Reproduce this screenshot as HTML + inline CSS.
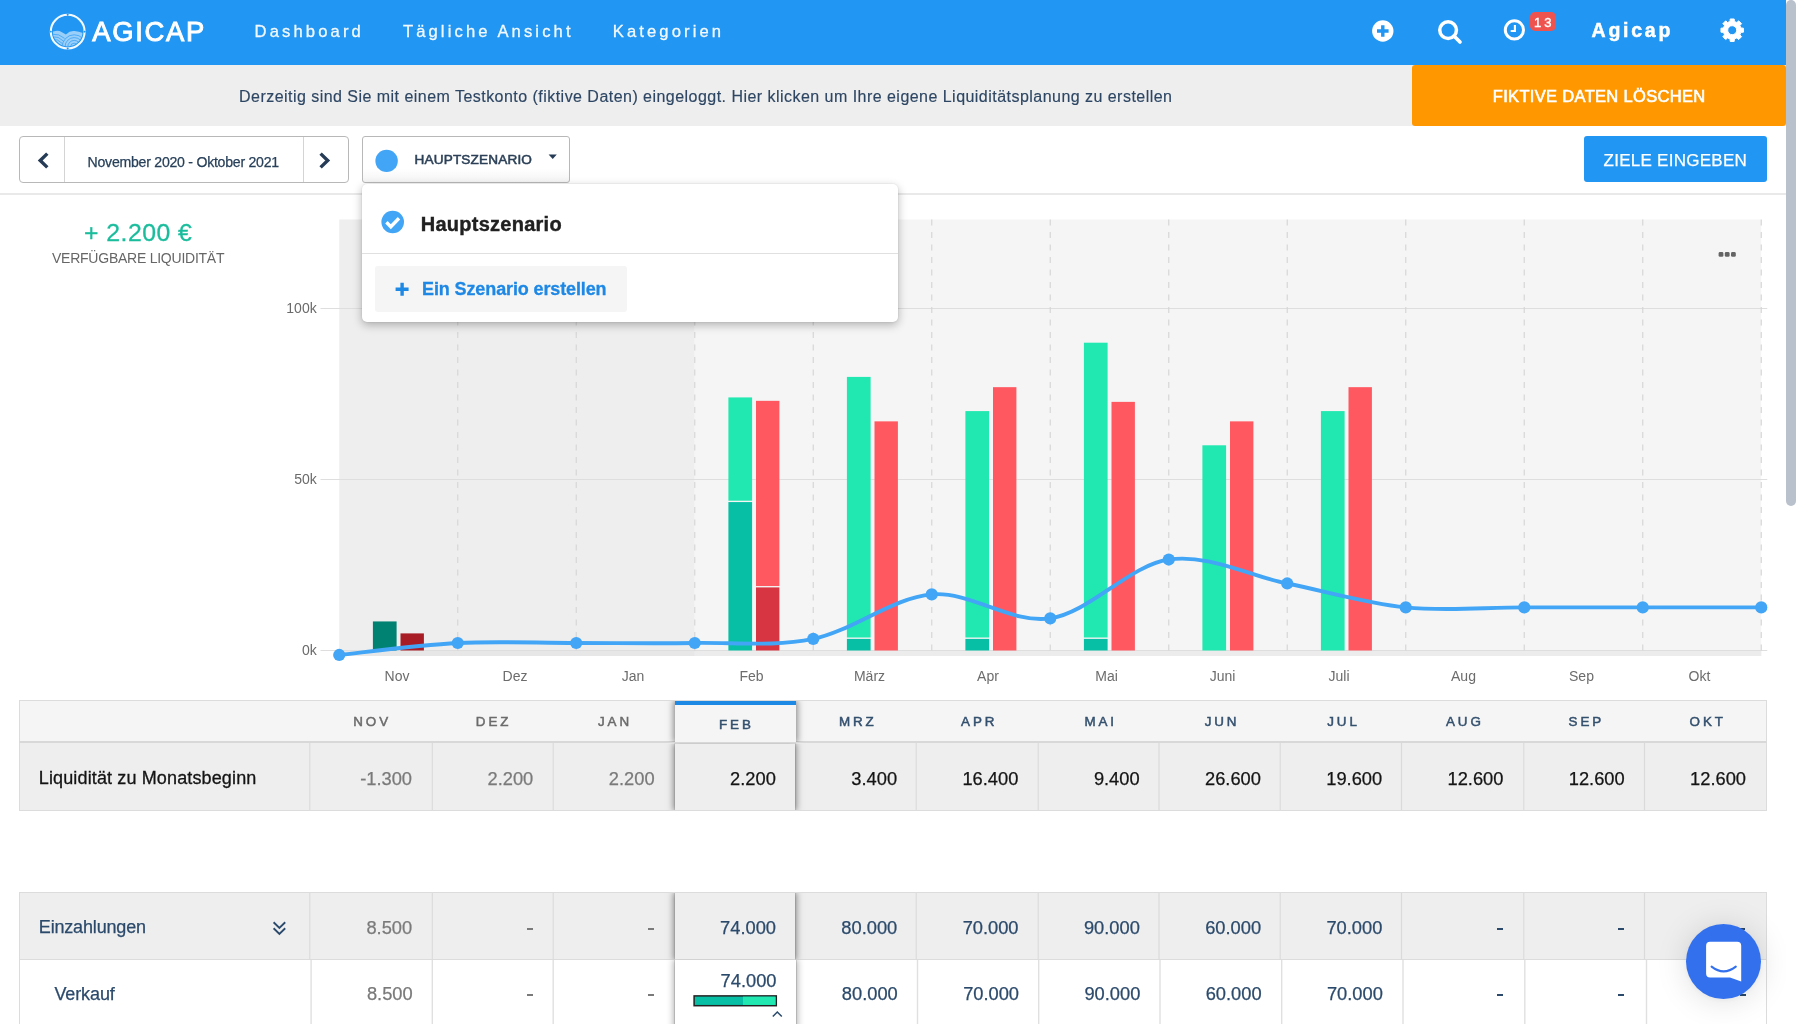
<!DOCTYPE html>
<html lang="de"><head><meta charset="utf-8"><title>Agicap</title>
<style>
html,body{margin:0;padding:0;}
body{width:1796px;height:1024px;overflow:hidden;background:#fff;position:relative;font-family:"Liberation Sans",sans-serif;}
.a{position:absolute;box-sizing:border-box;}
.t{position:absolute;white-space:nowrap;line-height:1;}
svg{position:absolute;overflow:visible;}
#root{position:absolute;left:0;top:0;width:1796px;height:1024px;overflow:hidden;will-change:transform;}
</style></head><body><div id="root">
<div class="a" style="left:0px;top:0px;width:1786px;height:65px;background:#2196f3;"></div>
<svg style="left:0;top:0" width="120" height="65" viewBox="0 0 120 65">
<defs><clipPath id="lc"><circle cx="67.7" cy="31.65" r="14.8"/></clipPath></defs>
<circle cx="67.7" cy="31.65" r="16.9" fill="none" stroke="#fff" stroke-opacity=".95" stroke-width="2.1"/>
<g fill="#2196f3"><path d="M67.7 13.5l1.2 1.2l-1.2 1.2l-1.2-1.2z"/><path d="M67.7 47.4l1.2 1.2l-1.2 1.2l-1.2-1.2z"/><path d="M49.6 31.65l1.2-1.2l1.2 1.2l-1.2 1.2z"/><path d="M83.4 31.65l1.2-1.2l1.2 1.2l-1.2 1.2z"/></g>
<g clip-path="url(#lc)">
<path d="M50 32 L53.5 31.6 Q58 30 61.5 31.9 L65.9 34.4 Q70 30.4 74.6 31 Q79.5 31.6 85 33.6 V52 H50 Z" fill="#fff" fill-opacity=".55"/>
<g fill="none" stroke="#2196f3" stroke-opacity=".75" stroke-width="0.85">
<circle cx="74.2" cy="46.8" r="3.6"/><circle cx="74.2" cy="46.8" r="6.4"/><circle cx="74.2" cy="46.8" r="9.2"/><circle cx="74.2" cy="46.8" r="12"/>
<path d="M52 34.2 Q59 33.5 64.6 38.4"/><path d="M52 36.8 Q58.5 36 63.4 41"/><path d="M52 39.4 Q58 38.6 62.4 43.6"/><path d="M53 42 Q58 41.4 61.6 46"/><path d="M55 44.8 Q58.5 44.4 61 48.4"/>
</g></g></svg>
<span class="t" style="left:92.30px;top:17.51px;font-size:27.4px;color:#fff;letter-spacing:1.712px;-webkit-text-stroke:0.95px #fff;">AGICAP</span>
<span class="t" style="left:254.60px;top:23.65px;font-size:16.6px;color:rgba(255,255,255,.93);letter-spacing:3.124px;-webkit-text-stroke:0.3px rgba(255,255,255,.93);">Dashboard</span>
<span class="t" style="left:402.90px;top:23.65px;font-size:16.6px;color:rgba(255,255,255,.93);letter-spacing:3.121px;-webkit-text-stroke:0.3px rgba(255,255,255,.93);">Tägliche Ansicht</span>
<span class="t" style="left:612.70px;top:23.65px;font-size:16.6px;color:rgba(255,255,255,.93);letter-spacing:3.123px;-webkit-text-stroke:0.3px rgba(255,255,255,.93);">Kategorien</span>
<svg style="left:1371px;top:19px" width="24" height="24" viewBox="0 0 24 24"><circle cx="11.8" cy="12" r="10.7" fill="#fff"/><path d="M11.8 6.2v11.6M6 12h11.6" stroke="#2196f3" stroke-width="3.4"/></svg>
<svg style="left:1436px;top:17px" width="28" height="28" viewBox="0 0 28 28"><circle cx="12.1" cy="13.1" r="8.35" fill="none" stroke="#fff" stroke-width="3.5"/><path d="M18 19L24 25" stroke="#fff" stroke-width="3.7" stroke-linecap="round"/></svg>
<svg style="left:1502px;top:18px" width="24" height="24" viewBox="0 0 24 24"><circle cx="12.4" cy="11.9" r="9.1" fill="none" stroke="#fff" stroke-width="3.0"/><path d="M12.9 6.9v6.1h-4.2" fill="none" stroke="#fff" stroke-width="2.1"/></svg>
<div class="a" style="left:1530.4px;top:12.4px;width:25.799999999999955px;height:18.700000000000003px;background:#ef5350;border-radius:5px;"></div>
<span class="t" style="left:1533.90px;top:16.40px;font-size:13px;color:#fff;letter-spacing:3.140px;-webkit-text-stroke:0.4px #fff;">13</span>
<span class="t" style="left:1591.60px;top:21.19px;font-size:19.5px;color:#fff;font-weight:bold;letter-spacing:2.737px;-webkit-text-stroke:0.5px #fff;">Agicap</span>
<svg style="left:0;top:0" width="1796" height="65"><path d="M1730.03 21.47 L1730.20 18.98 L1734.20 18.98 L1734.37 21.47 L1736.84 22.49 L1738.72 20.85 L1741.55 23.68 L1739.91 25.56 L1740.93 28.03 L1743.42 28.20 L1743.42 32.20 L1740.93 32.37 L1739.91 34.84 L1741.55 36.72 L1738.72 39.55 L1736.84 37.91 L1734.37 38.93 L1734.20 41.42 L1730.20 41.42 L1730.03 38.93 L1727.56 37.91 L1725.68 39.55 L1722.85 36.72 L1724.49 34.84 L1723.47 32.37 L1720.98 32.20 L1720.98 28.20 L1723.47 28.03 L1724.49 25.56 L1722.85 23.68 L1725.68 20.85 L1727.56 22.49Z M1727.70 30.20 a4.5 4.5 0 1 0 9.0 0 a4.5 4.5 0 1 0 -9.0 0Z" fill="#fff" fill-rule="evenodd" stroke="#fff" stroke-width="1" stroke-linejoin="round"/></svg>
<div class="a" style="left:0px;top:65px;width:1786px;height:61px;background:#eeeeee;"></div>
<span class="t" style="left:239.00px;top:89.06px;font-size:16px;color:#2d4663;letter-spacing:0.465px;-webkit-text-stroke:0.15px #2d4663;">Derzeitig sind Sie mit einem Testkonto (fiktive Daten) eingeloggt. Hier klicken um Ihre eigene Liquiditätsplanung zu erstellen</span>
<div class="a" style="left:1412px;top:65px;width:374px;height:61px;background:#ff9800;border-radius:3px;"></div>
<span class="t" style="left:1492.80px;top:87.83px;font-size:16.5px;color:#fff;letter-spacing:0.321px;-webkit-text-stroke:0.6px #fff;">FIKTIVE DATEN LÖSCHEN</span>
<div class="a" style="left:0px;top:193px;width:1786px;height:2px;background:#e9e9e9;"></div>
<div class="a" style="left:19px;top:136px;width:330px;height:47px;border:1px solid #b8b8b8;border-radius:4px;background:#fff;"></div>
<div class="a" style="left:64px;top:137px;width:1px;height:45px;background:#d4d4d4;"></div>
<div class="a" style="left:303px;top:137px;width:1px;height:45px;background:#d4d4d4;"></div>
<svg style="left:0;top:126px" width="400" height="70"><g fill="none" stroke="#253b56" stroke-width="3.4"><path d="M47.3 27.6L40.2 34.5L47.3 41.4"/><path d="M320.6 27.6L327.7 34.5L320.6 41.4"/></g></svg>
<span class="t" style="left:87.60px;top:154.66px;font-size:14.1px;color:#28405a;letter-spacing:-0.248px;-webkit-text-stroke:0.25px #28405a;">November 2020 - Oktober 2021</span>
<div class="a" style="left:362px;top:136px;width:208px;height:47px;border:1px solid #b8b8b8;border-radius:3px;background:linear-gradient(#fff 70%,#f4f4f4);"></div>
<svg style="left:0;top:126px" width="600" height="70"><circle cx="386.6" cy="34.9" r="11.2" fill="#42a5f5"/><path d="M548.6 28.6h8.2l-4.1 4.3z" fill="#253b56"/></svg>
<span class="t" style="left:414.50px;top:153.19px;font-size:13.6px;color:#2c4158;letter-spacing:0.157px;-webkit-text-stroke:0.55px #2c4158;">HAUPTSZENARIO</span>
<div class="a" style="left:1584px;top:136px;width:183px;height:46px;background:#2196f3;border-radius:3px;"></div>
<span class="t" style="left:1603.60px;top:151.91px;font-size:17px;color:#fff;letter-spacing:0.260px;-webkit-text-stroke:0.25px #fff;">ZIELE EINGEBEN</span>
<span class="t" style="left:84.00px;top:220.71px;font-size:24.8px;color:#1abc9c;letter-spacing:0.473px;-webkit-text-stroke:0.3px #1abc9c;">+ 2.200 €</span>
<span class="t" style="left:52.00px;top:250.95px;font-size:14px;color:#666;letter-spacing:-0.243px;">VERFÜGBARE LIQUIDITÄT</span>
<svg style="left:0;top:0" width="1796" height="700">
<rect x="339.25" y="219.5" width="355.5" height="436.5" fill="#eeeeee"/>
<rect x="694.75" y="219.5" width="1066.5" height="436.5" fill="#f5f5f5"/>
<rect x="339.25" y="651" width="355.5" height="5" fill="#e7e7e7"/>
<rect x="694.75" y="651" width="1066.5" height="5" fill="#ececec"/>
<path d="M320.5 650.50H1767.25" stroke="#dedede" stroke-width="1.1"/>
<path d="M320.5 479.50H1767.25" stroke="#dedede" stroke-width="1.1"/>
<path d="M320.5 308.50H1767.25" stroke="#dedede" stroke-width="1.1"/>
<path d="M457.75 219.5V651.5" stroke="#d6d6d6" stroke-width="1.2" stroke-dasharray="6 6.5"/>
<path d="M576.25 219.5V651.5" stroke="#d6d6d6" stroke-width="1.2" stroke-dasharray="6 6.5"/>
<path d="M694.75 219.5V651.5" stroke="#d6d6d6" stroke-width="1.2" stroke-dasharray="6 6.5"/>
<path d="M813.25 219.5V651.5" stroke="#d6d6d6" stroke-width="1.2" stroke-dasharray="6 6.5"/>
<path d="M931.75 219.5V651.5" stroke="#d6d6d6" stroke-width="1.2" stroke-dasharray="6 6.5"/>
<path d="M1050.25 219.5V651.5" stroke="#d6d6d6" stroke-width="1.2" stroke-dasharray="6 6.5"/>
<path d="M1168.75 219.5V651.5" stroke="#d6d6d6" stroke-width="1.2" stroke-dasharray="6 6.5"/>
<path d="M1287.25 219.5V651.5" stroke="#d6d6d6" stroke-width="1.2" stroke-dasharray="6 6.5"/>
<path d="M1405.75 219.5V651.5" stroke="#d6d6d6" stroke-width="1.2" stroke-dasharray="6 6.5"/>
<path d="M1524.25 219.5V651.5" stroke="#d6d6d6" stroke-width="1.2" stroke-dasharray="6 6.5"/>
<path d="M1642.75 219.5V651.5" stroke="#d6d6d6" stroke-width="1.2" stroke-dasharray="6 6.5"/>
<path d="M1761.25 219.5V651.5" stroke="#d6d6d6" stroke-width="1.2" stroke-dasharray="6 6.5"/>
<rect x="372.90" y="621.43" width="23.70" height="29.07" fill="#008272"/>
<rect x="400.50" y="633.40" width="23.40" height="17.10" fill="#a81d25"/>
<rect x="728.40" y="502.07" width="23.70" height="148.43" fill="#06bfa5"/>
<rect x="728.40" y="397.42" width="23.70" height="103.28" fill="#20e8b0"/>
<rect x="756.00" y="587.40" width="23.40" height="63.10" fill="#d63541"/>
<rect x="756.00" y="400.84" width="23.40" height="185.19" fill="#ff5860"/>
<rect x="846.90" y="638.87" width="23.70" height="11.63" fill="#06bfa5"/>
<rect x="846.90" y="376.90" width="23.70" height="260.60" fill="#20e8b0"/>
<rect x="874.50" y="421.36" width="23.40" height="229.14" fill="#ff5860"/>
<rect x="965.40" y="638.87" width="23.70" height="11.63" fill="#06bfa5"/>
<rect x="965.40" y="411.10" width="23.70" height="226.40" fill="#20e8b0"/>
<rect x="993.00" y="387.16" width="23.40" height="263.34" fill="#ff5860"/>
<rect x="1083.90" y="638.87" width="23.70" height="11.63" fill="#06bfa5"/>
<rect x="1083.90" y="342.70" width="23.70" height="294.80" fill="#20e8b0"/>
<rect x="1111.50" y="401.87" width="23.40" height="248.63" fill="#ff5860"/>
<rect x="1202.40" y="445.30" width="23.70" height="205.20" fill="#20e8b0"/>
<rect x="1230.00" y="421.36" width="23.40" height="229.14" fill="#ff5860"/>
<rect x="1320.90" y="411.10" width="23.70" height="239.40" fill="#20e8b0"/>
<rect x="1348.50" y="387.16" width="23.40" height="263.34" fill="#ff5860"/>
<path d="M339.25 654.95 C359.00 652.95 418.25 644.97 457.75 642.98 C497.25 640.98 536.75 642.98 576.25 642.98 C615.75 642.98 655.25 643.66 694.75 642.98 C734.25 642.29 773.75 646.97 813.25 638.87 C852.75 630.78 892.25 597.83 931.75 594.41 C971.25 590.99 1010.75 624.17 1050.25 618.35 C1089.75 612.54 1129.25 565.34 1168.75 559.53 C1208.25 553.71 1247.75 575.49 1287.25 583.47 C1326.75 591.45 1366.25 603.42 1405.75 607.41 C1445.25 611.40 1484.75 607.41 1524.25 607.41 C1563.75 607.41 1603.25 607.41 1642.75 607.41 C1682.25 607.41 1741.50 607.41 1761.25 607.41" fill="none" stroke="#42a5f5" stroke-width="3.9" stroke-linecap="round"/>
<circle cx="339.25" cy="654.95" r="6.1" fill="#42a5f5"/>
<circle cx="457.75" cy="642.98" r="6.1" fill="#42a5f5"/>
<circle cx="576.25" cy="642.98" r="6.1" fill="#42a5f5"/>
<circle cx="694.75" cy="642.98" r="6.1" fill="#42a5f5"/>
<circle cx="813.25" cy="638.87" r="6.1" fill="#42a5f5"/>
<circle cx="931.75" cy="594.41" r="6.1" fill="#42a5f5"/>
<circle cx="1050.25" cy="618.35" r="6.1" fill="#42a5f5"/>
<circle cx="1168.75" cy="559.53" r="6.1" fill="#42a5f5"/>
<circle cx="1287.25" cy="583.47" r="6.1" fill="#42a5f5"/>
<circle cx="1405.75" cy="607.41" r="6.1" fill="#42a5f5"/>
<circle cx="1524.25" cy="607.41" r="6.1" fill="#42a5f5"/>
<circle cx="1642.75" cy="607.41" r="6.1" fill="#42a5f5"/>
<circle cx="1761.25" cy="607.41" r="6.1" fill="#42a5f5"/>
<rect x="1718.60" y="252" width="4.8" height="4.8" rx="1.4" fill="#646464"/>
<rect x="1724.80" y="252" width="4.8" height="4.8" rx="1.4" fill="#646464"/>
<rect x="1731.00" y="252" width="4.8" height="4.8" rx="1.4" fill="#646464"/>
</svg>
<span class="t" style="left:286.34px;top:301.05px;font-size:14px;color:#6a6a6a;">100k</span>
<span class="t" style="left:294.13px;top:472.05px;font-size:14px;color:#6a6a6a;">50k</span>
<span class="t" style="left:301.91px;top:643.05px;font-size:14px;color:#6a6a6a;">0k</span>
<span class="t" style="left:384.55px;top:668.85px;font-size:14px;color:#6c6c6c;">Nov</span>
<span class="t" style="left:502.55px;top:668.85px;font-size:14px;color:#6c6c6c;">Dez</span>
<span class="t" style="left:621.71px;top:668.85px;font-size:14px;color:#6c6c6c;">Jan</span>
<span class="t" style="left:739.44px;top:668.85px;font-size:14px;color:#6c6c6c;">Feb</span>
<span class="t" style="left:853.94px;top:668.85px;font-size:14px;color:#6c6c6c;">März</span>
<span class="t" style="left:977.11px;top:668.85px;font-size:14px;color:#6c6c6c;">Apr</span>
<span class="t" style="left:1095.22px;top:668.85px;font-size:14px;color:#6c6c6c;">Mai</span>
<span class="t" style="left:1209.66px;top:668.85px;font-size:14px;color:#6c6c6c;">Juni</span>
<span class="t" style="left:1328.50px;top:668.85px;font-size:14px;color:#6c6c6c;">Juli</span>
<span class="t" style="left:1451.04px;top:668.85px;font-size:14px;color:#6c6c6c;">Aug</span>
<span class="t" style="left:1569.04px;top:668.85px;font-size:14px;color:#6c6c6c;">Sep</span>
<span class="t" style="left:1688.61px;top:668.85px;font-size:14px;color:#6c6c6c;">Okt</span>
<div class="a" style="left:362px;top:184px;width:536px;height:138px;background:#fff;border-radius:5px;box-shadow:0 3px 10px rgba(0,0,0,.28),0 0 2px rgba(0,0,0,.12);"></div>
<div class="a" style="left:362px;top:253px;width:536px;height:1px;background:#e0e0e0;"></div>
<svg style="left:0;top:184px" width="900" height="140"><circle cx="392.7" cy="38.0" r="11.3" fill="#42a5f5"/><path d="M386.4 38.3l4.4 4.4l8.2-8.5" fill="none" stroke="#fff" stroke-width="3.4"/></svg>
<span class="t" style="left:420.80px;top:213.77px;font-size:20px;color:#212121;font-weight:bold;letter-spacing:0.250px;-webkit-text-stroke:0.4px #212121;">Hauptszenario</span>
<div class="a" style="left:375.3px;top:266px;width:251.90000000000003px;height:45.5px;background:#f5f5f5;border-radius:3px;"></div>
<svg style="left:0;top:184px" width="900" height="140"><path d="M395.6 105.3h13M402.1 98.8v13" stroke="#1e88e5" stroke-width="3.4"/></svg>
<span class="t" style="left:422.10px;top:280.36px;font-size:18px;color:#1e88e5;font-weight:bold;letter-spacing:-0.122px;-webkit-text-stroke:0.3px #1e88e5;">Ein Szenario erstellen</span>
<div class="a" style="left:19px;top:700px;width:1748px;height:43px;background:#f5f5f5;border:1px solid #dcdcdc;border-bottom:2px solid #d8d8d8;"></div>
<div class="a" style="left:19px;top:743px;width:1748px;height:68px;background:#eeeeee;border:1px solid #dcdcdc;border-top:none;"></div>
<div class="a" style="left:19px;top:892px;width:1748px;height:68px;background:#eeeeee;border:1px solid #dcdcdc;"></div>
<div class="a" style="left:19px;top:960px;width:1748px;height:70px;background:#fff;border:1px solid #dcdcdc;border-top:none;"></div>
<svg style="left:0;top:0" width="1796" height="1024"><rect x="309.25" y="743" width="1.1" height="67" fill="#dadada"/><rect x="309.25" y="893" width="1.1" height="66.5" fill="#dadada"/><rect x="431.75" y="743" width="1.1" height="67" fill="#dadada"/><rect x="431.75" y="893" width="1.1" height="66.5" fill="#dadada"/><rect x="552.65" y="743" width="1.1" height="67" fill="#dadada"/><rect x="552.65" y="893" width="1.1" height="66.5" fill="#dadada"/><rect x="674.25" y="743" width="1.1" height="67" fill="#dadada"/><rect x="674.25" y="893" width="1.1" height="66.5" fill="#dadada"/><rect x="794.95" y="743" width="1.1" height="67" fill="#dadada"/><rect x="794.95" y="893" width="1.1" height="66.5" fill="#dadada"/><rect x="915.65" y="743" width="1.1" height="67" fill="#dadada"/><rect x="915.65" y="893" width="1.1" height="66.5" fill="#dadada"/><rect x="1037.65" y="743" width="1.1" height="67" fill="#dadada"/><rect x="1037.65" y="893" width="1.1" height="66.5" fill="#dadada"/><rect x="1158.45" y="743" width="1.1" height="67" fill="#dadada"/><rect x="1158.45" y="893" width="1.1" height="66.5" fill="#dadada"/><rect x="1279.65" y="743" width="1.1" height="67" fill="#dadada"/><rect x="1279.65" y="893" width="1.1" height="66.5" fill="#dadada"/><rect x="1400.95" y="743" width="1.1" height="67" fill="#dadada"/><rect x="1400.95" y="893" width="1.1" height="66.5" fill="#dadada"/><rect x="1523.25" y="743" width="1.1" height="67" fill="#dadada"/><rect x="1523.25" y="893" width="1.1" height="66.5" fill="#dadada"/><rect x="1643.95" y="743" width="1.1" height="67" fill="#dadada"/><rect x="1643.95" y="893" width="1.1" height="66.5" fill="#dadada"/><rect x="310.40" y="960" width="1.4" height="64" fill="#e0e0e0"/><rect x="431.60" y="960" width="1.4" height="64" fill="#e0e0e0"/><rect x="552.50" y="960" width="1.4" height="64" fill="#e0e0e0"/><rect x="674.10" y="960" width="1.4" height="64" fill="#e0e0e0"/><rect x="795.50" y="960" width="1.4" height="64" fill="#e0e0e0"/><rect x="916.80" y="960" width="1.4" height="64" fill="#e0e0e0"/><rect x="1038.00" y="960" width="1.4" height="64" fill="#e0e0e0"/><rect x="1159.30" y="960" width="1.4" height="64" fill="#e0e0e0"/><rect x="1281.00" y="960" width="1.4" height="64" fill="#e0e0e0"/><rect x="1402.30" y="960" width="1.4" height="64" fill="#e0e0e0"/><rect x="1524.10" y="960" width="1.4" height="64" fill="#e0e0e0"/><rect x="1645.80" y="960" width="1.4" height="64" fill="#e0e0e0"/></svg>
<div class="a" style="left:674.5px;top:701px;width:121.20000000000005px;height:41px;background:#f5f5f5;border-top:4px solid #1e88e5;box-shadow:0 0 7px 1px rgba(0,0,0,.5);clip-path:inset(0 -12px 0 -12px);"></div>
<div class="a" style="left:674.5px;top:743.5px;width:120.40000000000009px;height:66.5px;background:#eeeeee;box-shadow:0 0 7px 1px rgba(0,0,0,.5);clip-path:inset(0 -12px 0 -12px);"></div>
<div class="a" style="left:674.5px;top:893px;width:120.40000000000009px;height:66.5px;background:#eeeeee;box-shadow:0 0 7px 1px rgba(0,0,0,.5);clip-path:inset(0 -12px 0 -12px);"></div>
<div class="a" style="left:675.2px;top:960px;width:121.20000000000005px;height:70px;background:#fff;box-shadow:0 0 7px 1px rgba(0,0,0,.36);clip-path:inset(0 -12px 0 -12px);"></div>
<span class="t" style="left:353.29px;top:714.56px;font-size:13.4px;color:#6b6b6b;letter-spacing:2.900px;-webkit-text-stroke:0.5px #6b6b6b;">NOV</span>
<span class="t" style="left:475.82px;top:714.56px;font-size:13.4px;color:#6b6b6b;letter-spacing:2.900px;-webkit-text-stroke:0.5px #6b6b6b;">DEZ</span>
<span class="t" style="left:597.98px;top:714.56px;font-size:13.4px;color:#6b6b6b;letter-spacing:2.900px;-webkit-text-stroke:0.5px #6b6b6b;">JAN</span>
<span class="t" style="left:719.03px;top:718.26px;font-size:13.4px;color:#34506e;letter-spacing:2.900px;-webkit-text-stroke:0.5px #34506e;">FEB</span>
<span class="t" style="left:838.96px;top:714.56px;font-size:13.4px;color:#34506e;letter-spacing:2.900px;-webkit-text-stroke:0.5px #34506e;">MRZ</span>
<span class="t" style="left:961.12px;top:714.56px;font-size:13.4px;color:#34506e;letter-spacing:2.900px;-webkit-text-stroke:0.5px #34506e;">APR</span>
<span class="t" style="left:1084.40px;top:714.56px;font-size:13.4px;color:#34506e;letter-spacing:2.900px;-webkit-text-stroke:0.5px #34506e;">MAI</span>
<span class="t" style="left:1204.70px;top:714.56px;font-size:13.4px;color:#34506e;letter-spacing:2.900px;-webkit-text-stroke:0.5px #34506e;">JUN</span>
<span class="t" style="left:1327.23px;top:714.56px;font-size:13.4px;color:#34506e;letter-spacing:2.900px;-webkit-text-stroke:0.5px #34506e;">JUL</span>
<span class="t" style="left:1446.04px;top:714.56px;font-size:13.4px;color:#34506e;letter-spacing:2.900px;-webkit-text-stroke:0.5px #34506e;">AUG</span>
<span class="t" style="left:1568.57px;top:714.56px;font-size:13.4px;color:#34506e;letter-spacing:2.900px;-webkit-text-stroke:0.5px #34506e;">SEP</span>
<span class="t" style="left:1689.62px;top:714.56px;font-size:13.4px;color:#34506e;letter-spacing:2.900px;-webkit-text-stroke:0.5px #34506e;">OKT</span>
<span class="t" style="left:360.16px;top:770.21px;font-size:18.3px;color:#7a7a7a;-webkit-text-stroke:0.25px #7a7a7a;">-1.300</span>
<span class="t" style="left:487.53px;top:770.21px;font-size:18.3px;color:#7a7a7a;-webkit-text-stroke:0.25px #7a7a7a;">2.200</span>
<span class="t" style="left:608.80px;top:770.21px;font-size:18.3px;color:#7a7a7a;-webkit-text-stroke:0.25px #7a7a7a;">2.200</span>
<span class="t" style="left:730.07px;top:770.21px;font-size:18.3px;color:#141414;-webkit-text-stroke:0.25px #141414;">2.200</span>
<span class="t" style="left:851.34px;top:770.21px;font-size:18.3px;color:#141414;-webkit-text-stroke:0.25px #141414;">3.400</span>
<span class="t" style="left:962.43px;top:770.21px;font-size:18.3px;color:#141414;-webkit-text-stroke:0.25px #141414;">16.400</span>
<span class="t" style="left:1093.88px;top:770.21px;font-size:18.3px;color:#141414;-webkit-text-stroke:0.25px #141414;">9.400</span>
<span class="t" style="left:1204.97px;top:770.21px;font-size:18.3px;color:#141414;-webkit-text-stroke:0.25px #141414;">26.600</span>
<span class="t" style="left:1326.24px;top:770.21px;font-size:18.3px;color:#141414;-webkit-text-stroke:0.25px #141414;">19.600</span>
<span class="t" style="left:1447.51px;top:770.21px;font-size:18.3px;color:#141414;-webkit-text-stroke:0.25px #141414;">12.600</span>
<span class="t" style="left:1568.78px;top:770.21px;font-size:18.3px;color:#141414;-webkit-text-stroke:0.25px #141414;">12.600</span>
<span class="t" style="left:1690.05px;top:770.21px;font-size:18.3px;color:#141414;-webkit-text-stroke:0.25px #141414;">12.600</span>
<span class="t" style="left:366.46px;top:919.21px;font-size:18.3px;color:#7a7a7a;-webkit-text-stroke:0.25px #7a7a7a;">8.500</span>
<div class="a" style="left:526.57px;top:928.1px;width:6.100000000000023px;height:1.6000000000000227px;background:#7a7a7a;"></div>
<div class="a" style="left:647.84px;top:928.1px;width:6.100000000000023px;height:1.6000000000000227px;background:#7a7a7a;"></div>
<span class="t" style="left:720.09px;top:919.21px;font-size:18.3px;color:#2b4a6b;-webkit-text-stroke:0.25px #2b4a6b;">74.000</span>
<span class="t" style="left:841.36px;top:919.21px;font-size:18.3px;color:#2b4a6b;-webkit-text-stroke:0.25px #2b4a6b;">80.000</span>
<span class="t" style="left:962.63px;top:919.21px;font-size:18.3px;color:#2b4a6b;-webkit-text-stroke:0.25px #2b4a6b;">70.000</span>
<span class="t" style="left:1083.90px;top:919.21px;font-size:18.3px;color:#2b4a6b;-webkit-text-stroke:0.25px #2b4a6b;">90.000</span>
<span class="t" style="left:1205.17px;top:919.21px;font-size:18.3px;color:#2b4a6b;-webkit-text-stroke:0.25px #2b4a6b;">60.000</span>
<span class="t" style="left:1326.44px;top:919.21px;font-size:18.3px;color:#2b4a6b;-webkit-text-stroke:0.25px #2b4a6b;">70.000</span>
<div class="a" style="left:1496.73px;top:928.1px;width:6.099999999999909px;height:1.6000000000000227px;background:#2b4a6b;"></div>
<div class="a" style="left:1618.0px;top:928.1px;width:6.099999999999909px;height:1.6000000000000227px;background:#2b4a6b;"></div>
<div class="a" style="left:1739.27px;top:928.1px;width:6.099999999999909px;height:1.6000000000000227px;background:#2b4a6b;"></div>
<span class="t" style="left:366.96px;top:985.31px;font-size:18.3px;color:#7a7a7a;-webkit-text-stroke:0.25px #7a7a7a;">8.500</span>
<div class="a" style="left:526.97px;top:994.0px;width:6.100000000000023px;height:1.6000000000000227px;background:#7a7a7a;"></div>
<div class="a" style="left:648.24px;top:994.0px;width:6.100000000000023px;height:1.6000000000000227px;background:#7a7a7a;"></div>
<span class="t" style="left:720.59px;top:971.61px;font-size:18.3px;color:#2b4a6b;-webkit-text-stroke:0.25px #2b4a6b;">74.000</span>
<span class="t" style="left:841.86px;top:985.31px;font-size:18.3px;color:#2b4a6b;-webkit-text-stroke:0.25px #2b4a6b;">80.000</span>
<span class="t" style="left:963.13px;top:985.31px;font-size:18.3px;color:#2b4a6b;-webkit-text-stroke:0.25px #2b4a6b;">70.000</span>
<span class="t" style="left:1084.40px;top:985.31px;font-size:18.3px;color:#2b4a6b;-webkit-text-stroke:0.25px #2b4a6b;">90.000</span>
<span class="t" style="left:1205.67px;top:985.31px;font-size:18.3px;color:#2b4a6b;-webkit-text-stroke:0.25px #2b4a6b;">60.000</span>
<span class="t" style="left:1326.94px;top:985.31px;font-size:18.3px;color:#2b4a6b;-webkit-text-stroke:0.25px #2b4a6b;">70.000</span>
<div class="a" style="left:1497.13px;top:994.0px;width:6.099999999999909px;height:1.6000000000000227px;background:#2b4a6b;"></div>
<div class="a" style="left:1618.4px;top:994.0px;width:6.099999999999909px;height:1.6000000000000227px;background:#2b4a6b;"></div>
<div class="a" style="left:1739.67px;top:994.0px;width:6.099999999999909px;height:1.6000000000000227px;background:#2b4a6b;"></div>
<span class="t" style="left:38.80px;top:768.56px;font-size:18px;color:#141414;letter-spacing:0.134px;-webkit-text-stroke:0.3px #141414;">Liquidität zu Monatsbeginn</span>
<span class="t" style="left:38.80px;top:917.86px;font-size:18px;color:#2b4a6b;letter-spacing:-0.172px;-webkit-text-stroke:0.25px #2b4a6b;">Einzahlungen</span>
<span class="t" style="left:54.40px;top:985.06px;font-size:18px;color:#2b4a6b;letter-spacing:-0.107px;-webkit-text-stroke:0.25px #2b4a6b;">Verkauf</span>
<svg style="left:0;top:900px" width="900" height="124"><g fill="none" stroke="#2b4a6b" stroke-width="1.9"><path d="M273.6 22.3l5.8 5.6l5.8-5.6M273.6 28.3l5.8 5.6l5.8-5.6"/></g><rect x="694.1" y="95.9" width="82.2" height="9.8" fill="#06bfa5" stroke="#222" stroke-width="1.5"/><rect x="743" y="96.65" width="32.55" height="8.3" fill="#20e8b0"/><path d="M772.8 116.6l4.5-4.6l4.5 4.6" fill="none" stroke="#2b4a6b" stroke-width="1.5"/></svg>
<div class="a" style="left:1686.1px;top:923.8px;width:75.20000000000005px;height:75.20000000000005px;background:#3370ee;border-radius:50%;box-shadow:0 1px 6px rgba(0,0,0,.05),0 2px 32px rgba(0,0,0,.13);"></div>
<svg style="left:1686px;top:923px" width="76" height="76"><path d="M24.1 18.7h27.1a4 4 0 0 1 4 4v35.8l-11.2-4.1h-19.9a4 4 0 0 1 -4-4v-27.7a4 4 0 0 1 4-4z" fill="#fff"/><path d="M25.6 43.6q12 9.4 24.2 0" fill="none" stroke="#3370ee" stroke-width="2.1" stroke-linecap="round"/></svg>
<div class="a" style="left:1786px;top:0px;width:10px;height:1024px;background:#fff;"></div>
<div class="a" style="left:1786px;top:0px;width:10.400000000000091px;height:506.2px;background:#b9c1cc;border-radius:5.2px;"></div>
</div></body></html>
